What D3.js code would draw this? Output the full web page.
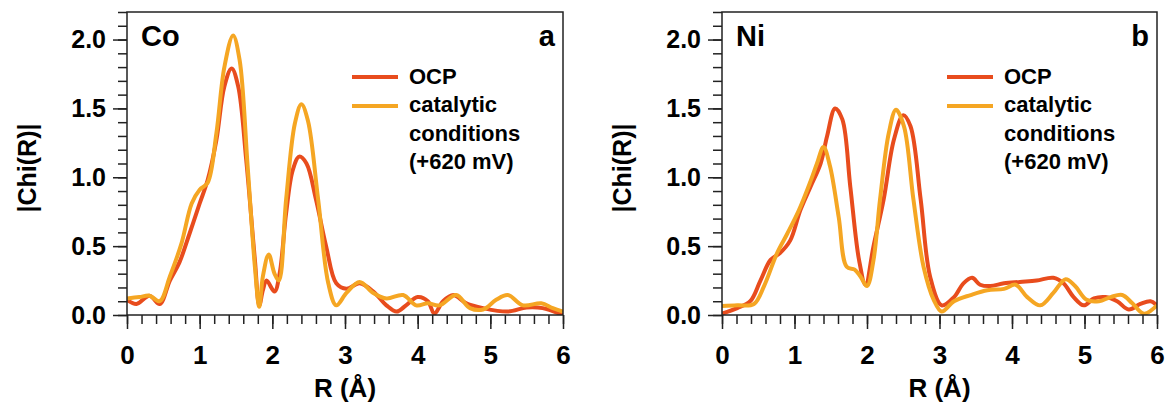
<!DOCTYPE html>
<html>
<head>
<meta charset="utf-8">
<script src="https://cdn.jsdelivr.net/npm/d3@7"></script>
<style>
  body { margin: 0; background: #fff; }
  svg text { font-family: "Liberation Sans", Arial, Helvetica, sans-serif; font-weight: bold; fill: #000; }
</style>
</head>
<body>
<svg id="chart" width="1167" height="406"></svg>
<script>
// R (Å) sample positions and |Chi(R)| values
const coR_ocp = [0, 0.13, 0.31, 0.45, 0.59, 0.72, 0.86, 1.0, 1.11, 1.23, 1.34, 1.44, 1.53, 1.64, 1.76, 1.82, 1.87, 1.92, 2.03, 2.1, 2.19, 2.28, 2.37, 2.47, 2.6, 2.74, 2.88, 3.02, 3.2, 3.39, 3.57, 3.71, 3.84, 4.0, 4.14, 4.23, 4.35, 4.49, 4.67, 4.9, 5.24, 5.5, 5.72, 6.0];
const coChi_ocp = [0.11, 0.08, 0.14, 0.08, 0.25, 0.38, 0.59, 0.81, 0.98, 1.27, 1.66, 1.79, 1.66, 1.13, 0.40, 0.07, 0.18, 0.25, 0.17, 0.30, 0.74, 1.05, 1.15, 1.10, 0.84, 0.50, 0.23, 0.19, 0.23, 0.17, 0.07, 0.025, 0.07, 0.13, 0.10, 0.01, 0.10, 0.145, 0.085, 0.05, 0.025, 0.055, 0.05, 0.0];

const coR_cat = [0, 0.17, 0.31, 0.45, 0.59, 0.75, 0.89, 1.0, 1.11, 1.23, 1.34, 1.46, 1.55, 1.66, 1.76, 1.82, 1.87, 1.95, 2.03, 2.09, 2.19, 2.31, 2.40, 2.49, 2.63, 2.77, 2.88, 3.02, 3.2, 3.39, 3.57, 3.8, 3.98, 4.14, 4.3, 4.53, 4.72, 4.9, 5.08, 5.24, 5.45, 5.7, 5.86, 6.0];
const coChi_cat = [0.12, 0.13, 0.14, 0.10, 0.28, 0.52, 0.81, 0.91, 0.96, 1.32, 1.80, 2.03, 1.85, 1.08, 0.35, 0.06, 0.28, 0.44, 0.30, 0.25, 0.84, 1.39, 1.53, 1.41, 0.84, 0.23, 0.07, 0.16, 0.24, 0.16, 0.12, 0.145, 0.07, 0.085, 0.07, 0.145, 0.05, 0.04, 0.11, 0.145, 0.07, 0.085, 0.05, 0.025];

const niR_ocp = [0, 0.21, 0.39, 0.53, 0.67, 0.80, 0.94, 1.08, 1.22, 1.36, 1.45, 1.56, 1.66, 1.77, 1.89, 1.98, 2.09, 2.23, 2.37, 2.5, 2.6, 2.74, 2.87, 3.03, 3.2, 3.33, 3.45, 3.56, 3.7, 3.89, 4.11, 4.34, 4.57, 4.71, 4.85, 4.99, 5.13, 5.29, 5.45, 5.61, 5.77, 5.91, 6.0];
const niChi_ocp = [0.01, 0.05, 0.10, 0.25, 0.40, 0.45, 0.54, 0.76, 0.93, 1.10, 1.30, 1.50, 1.42, 0.93, 0.40, 0.22, 0.50, 0.84, 1.27, 1.45, 1.37, 0.84, 0.28, 0.07, 0.13, 0.23, 0.27, 0.22, 0.21, 0.23, 0.24, 0.25, 0.27, 0.23, 0.13, 0.07, 0.12, 0.13, 0.10, 0.04, 0.08, 0.10, 0.07];

const niR_cat = [0, 0.21, 0.44, 0.58, 0.76, 0.90, 1.06, 1.22, 1.31, 1.40, 1.49, 1.61, 1.72, 1.83, 1.91, 2.0, 2.09, 2.18, 2.30, 2.40, 2.51, 2.64, 2.78, 2.92, 3.03, 3.2, 3.43, 3.66, 3.89, 4.05, 4.21, 4.39, 4.57, 4.74, 4.87, 5.03, 5.2, 5.36, 5.52, 5.66, 5.82, 6.0];
const niChi_cat = [0.065, 0.07, 0.08, 0.21, 0.45, 0.59, 0.76, 0.97, 1.10, 1.22, 1.08, 0.71, 0.35, 0.33, 0.28, 0.21, 0.40, 0.84, 1.32, 1.49, 1.37, 0.84, 0.35, 0.11, 0.025, 0.10, 0.145, 0.18, 0.19, 0.22, 0.13, 0.07, 0.16, 0.26, 0.21, 0.11, 0.10, 0.13, 0.145, 0.085, 0.01, 0.07];

const seriesNames = ["OCP", "catalytic"];
const legendLines = ["OCP", "catalytic", "conditions", "(+620 mV)"];
const xTicks = [0, 1, 2, 3, 4, 5, 6];
const yTicks = [0, 0.5, 1.0, 1.5, 2.0];

const colors = { OCP: "#e84c1d", catalytic: "#f5a623" };

const panels = [
  { element: "Co", letter: "a", left: 127, right: 563, labelX: 36,
    series: { OCP: [coR_ocp, coChi_ocp], catalytic: [coR_cat, coChi_cat] } },
  { element: "Ni", letter: "b", left: 722, right: 1157, labelX: 631,
    series: { OCP: [niR_ocp, niChi_ocp], catalytic: [niR_cat, niChi_cat] } }
];

const plotTop = 12, plotBottom = 315;
const svg = d3.select("#chart");

panels.forEach(p => {
  const x = d3.scaleLinear().domain([0, 6]).range([p.left, p.right]);
  const y = d3.scaleLinear().domain([0, 2.2]).range([plotBottom, plotTop]);
  const g = svg.append("g");

  // clip so curves stay inside the frame
  const clipId = "clip-" + p.letter;
  svg.append("clipPath").attr("id", clipId)
    .append("rect").attr("x", p.left).attr("y", plotTop)
    .attr("width", p.right - p.left).attr("height", plotBottom - plotTop);

  // minor ticks
  g.append("g").attr("transform", `translate(0,${plotBottom})`)
    .call(d3.axisBottom(x).tickValues(d3.range(0, 6.01, 0.2)).tickSize(9).tickFormat(""))
    .call(a => a.select(".domain").remove());
  g.append("g").attr("transform", `translate(${p.left},0)`)
    .call(d3.axisLeft(y).tickValues(d3.range(0, 2.21, 0.1)).tickSize(9).tickFormat(""))
    .call(a => a.select(".domain").remove());

  // major ticks with labels
  g.append("g").attr("transform", `translate(0,${plotBottom})`)
    .call(d3.axisBottom(x).tickValues(xTicks).tickSize(14).tickPadding(17).tickFormat(d3.format("d")))
    .call(a => a.select(".domain").remove())
    .call(a => a.selectAll("text").style("font-size", "26px"));
  g.append("g").attr("transform", `translate(${p.left},0)`)
    .call(d3.axisLeft(y).tickValues(yTicks).tickSize(14).tickPadding(7).tickFormat(d3.format(".1f")))
    .call(a => a.select(".domain").remove())
    .call(a => a.selectAll("text").style("font-size", "25px"));

  g.selectAll(".tick line").attr("stroke", "#222").attr("stroke-width", 1.5);

  // curves
  const line = d3.line().x(d => x(d[0])).y(d => y(d[1])).curve(d3.curveCatmullRom.alpha(0.5));
  seriesNames.forEach(name => {
    const [rs, vs] = p.series[name];
    g.append("path")
      .datum(rs.map((r, i) => [r, vs[i]]))
      .attr("clip-path", `url(#${clipId})`)
      .attr("fill", "none")
      .attr("stroke", colors[name])
      .attr("stroke-width", 4)
      .attr("stroke-linejoin", "round")
      .attr("d", line);
  });

  // frame
  g.append("rect")
    .attr("x", p.left).attr("y", plotTop)
    .attr("width", p.right - p.left).attr("height", plotBottom - plotTop)
    .attr("fill", "none").attr("stroke", "#222").attr("stroke-width", 1.5);

  // panel labels
  g.append("text").attr("x", p.left + 14).attr("y", 46).style("font-size", "29px").text(p.element);
  g.append("text").attr("x", p.right - 8).attr("y", 46).attr("text-anchor", "end").style("font-size", "29px").text(p.letter);

  // legend
  const lx = p.left + 225;
  seriesNames.forEach((name, i) => {
    g.append("line")
      .attr("x1", lx).attr("x2", lx + 46)
      .attr("y1", 77 + i * 29).attr("y2", 77 + i * 29)
      .attr("stroke", colors[name]).attr("stroke-width", 4);
  });
  legendLines.forEach((t, i) => {
    g.append("text").attr("x", lx + 57).attr("y", 84 + i * 28.3)
      .style("font-size", "22px").text(t);
  });

  // axis titles
  g.append("text")
    .attr("transform", `translate(${p.labelX},168) rotate(-90)`)
    .attr("text-anchor", "middle").style("font-size", "25px").text("|Chi(R)|");
  g.append("text")
    .attr("x", (p.left + p.right) / 2).attr("y", 397)
    .attr("text-anchor", "middle").style("font-size", "26px").text("R (Å)");
});
</script>
</body>
</html>
